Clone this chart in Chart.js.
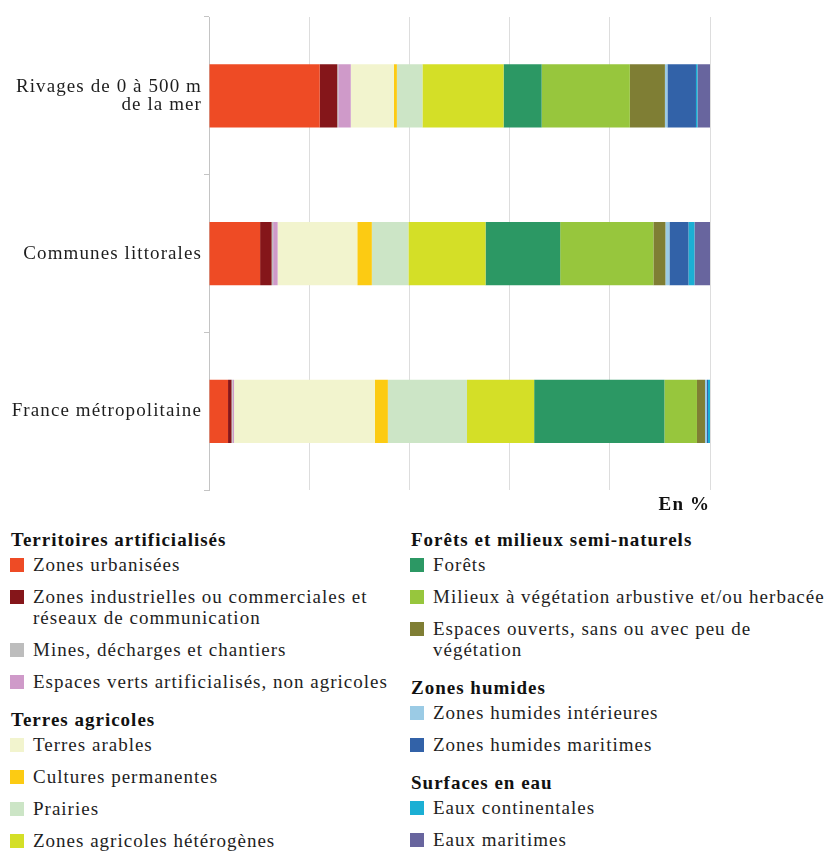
<!DOCTYPE html>
<html lang="fr">
<head>
<meta charset="utf-8">
<title>Occupation du sol</title>
<script src="https://cdn.jsdelivr.net/npm/chart.js@4/dist/chart.umd.min.js"></script>
<style>
  body { margin: 0; background: #fff; font-family: "Liberation Serif", "Times New Roman", serif; color: #1e1e1e; }
  #wrap { position: relative; width: 829px; height: 852px; overflow: hidden; }
  #chart { position: absolute; left: 0; top: 0; }
  .col { position: absolute; top: 529px; white-space: pre-line; letter-spacing: 1px; }
  .head { font-weight: bold; font-size: 19px; line-height: 22px; margin-top: 17px; margin-left: 1px; color: #111; }
  .head:first-child { margin-top: 0; }
  .item { position: relative; padding-left: 23px; font-size: 19px; line-height: 21px; margin-top: 11px; }
  .head + .item { margin-top: 3px; }
  .sw { position: absolute; left: 0; top: 4px; width: 14px; height: 14px; }
</style>
</head>
<body>
<div id="wrap">
  <canvas id="chart" width="829" height="520"></canvas>
  <div class="col" id="legLeft" style="left:10px"></div>
  <div class="col" id="legRight" style="left:410px"></div>
</div>
<script>
const categories = [['Rivages de 0 à 500 m', 'de la mer'], 'Communes littorales', 'France métropolitaine'];

const seriesNames = [
    'Zones urbanisées',
    'Zones industrielles ou commerciales et\nréseaux de communication',
    'Mines, décharges et chantiers',
    'Espaces verts artificialisés, non agricoles',
    'Terres arables',
    'Cultures permanentes',
    'Prairies',
    'Zones agricoles hétérogènes',
    'Forêts',
    'Milieux à végétation arbustive et/ou herbacée',
    'Espaces ouverts, sans ou avec peu de\nvégétation',
    'Zones humides intérieures',
    'Zones humides maritimes',
    'Eaux continentales',
    'Eaux maritimes'
];

const seriesColors = [
    '#ee4b25', '#85161a', '#bdbdbd', '#cf9ac9',
    '#f2f4ce', '#fccb13', '#cce5c6', '#d4df27',
    '#2c9864', '#97c63d', '#7f7e34',
    '#9bcbe5', '#3262a8',
    '#1bafd4', '#68659e'
];

// shares in %, same order as seriesNames
const rivages = [22.1, 3.5, 0.2, 2.5, 8.6, 0.6, 5.1, 16.2, 7.6, 17.6, 7.0, 0.5, 5.7, 0.3, 2.5];
const communes = [10.2, 2.3, 0.3, 0.9, 15.9, 2.9, 7.3, 15.4, 14.9, 18.6, 2.4, 0.8, 3.8, 1.2, 3.1];
const france = [3.8, 0.7, 0.2, 0.3, 28.1, 2.6, 15.8, 13.4, 26.0, 6.5, 1.6, 0.4, 0.2, 0.4, 0.0];

// legend groups: heading + number of series in it
const groupNames = ['Territoires artificialisés', 'Terres agricoles', 'Forêts et milieux semi-naturels', 'Zones humides', 'Surfaces en eau'];
const groupSizes = [4, 4, 3, 2, 2];
const groupColumn = [0, 0, 1, 1, 1];

const serif = '"Liberation Serif", "Times New Roman", serif';

// the canvas text is set a little wider, like the legend
const letterSpacing = {
    id: 'letterSpacing',
    beforeDraw(chart) { chart.ctx.letterSpacing = '1.1px'; }
};

const datasets = seriesNames.map((name, i) => ({
    label: name,
    data: [rivages[i], communes[i], france[i]],
    backgroundColor: seriesColors[i],
    borderWidth: 0,
    categoryPercentage: 0.4,
    barPercentage: 1.0
}));

new Chart(document.getElementById('chart').getContext('2d'), {
    type: 'bar',
    data: { labels: categories, datasets: datasets },
    plugins: [letterSpacing],
    options: {
        indexAxis: 'y',
        responsive: false,
        animation: false,
        layout: { padding: { top: 17, right: 119, bottom: 4, left: 0 } },
        plugins: {
            legend: { display: false },
            tooltip: { enabled: false }
        },
        scales: {
            x: {
                stacked: true,
                min: 0,
                max: 100,
                ticks: { display: false, stepSize: 20 },
                grid: { color: '#dddddd', drawTicks: false },
                border: { display: false },
                title: {
                    display: true,
                    text: 'En %',
                    align: 'end',
                    color: '#111',
                    font: { family: serif, size: 19, weight: 'bold' },
                    padding: { top: 3, bottom: 0 }
                }
            },
            y: {
                stacked: true,
                grid: { offset: true, drawOnChartArea: false, tickLength: 5, color: '#c4c4c4' },
                border: { display: true, color: '#c4c4c4' },
                ticks: { color: '#1e1e1e', font: { family: serif, size: 19, lineHeight: 0.95 }, padding: 2 },
                afterFit: (scale) => { scale.width = 209; }
            }
        }
    }
});

// grouped legend under the chart
const cols = [document.getElementById('legLeft'), document.getElementById('legRight')];
let k = 0;
groupNames.forEach((g, gi) => {
    const col = cols[groupColumn[gi]];
    const h = document.createElement('div');
    h.className = 'head';
    h.textContent = g;
    col.appendChild(h);
    for (let j = 0; j < groupSizes[gi]; j++, k++) {
        const it = document.createElement('div');
        it.className = 'item';
        const sw = document.createElement('span');
        sw.className = 'sw';
        sw.style.background = seriesColors[k];
        it.appendChild(sw);
        it.appendChild(document.createTextNode(seriesNames[k]));
        col.appendChild(it);
    }
});
</script>
</body>
</html>
